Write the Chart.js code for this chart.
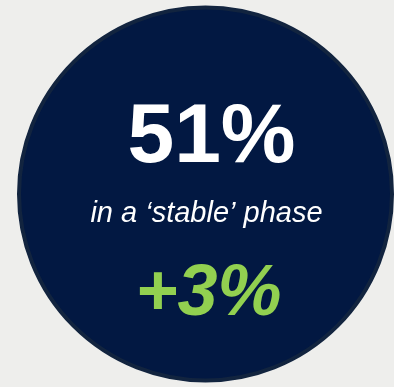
<!DOCTYPE html>
<html>
<head>
<meta charset="utf-8">
<script src="https://cdn.jsdelivr.net/npm/chart.js@4/dist/chart.umd.min.js"></script>
<style>
  html, body { margin: 0; padding: 0; background: #eeeeec; }
  #wrap { width: 394px; height: 387px; }
</style>
</head>
<body>
<div id="wrap"><canvas id="badge"></canvas></div>
<script>
// badge contents
const segments = ['stable'];
const segmentValues = [100];
const headline = '51%';
const captionText = 'in a \u2018stable\u2019 phase';
const change = '+3%';

const navy = '#021842';
const ringColor = '#12243f';
const green = '#92d050';

// text sits on top of the disc
const badgeText = {
  id: 'badgeText',
  afterDraw(chart) {
    const ctx = chart.ctx;
    const arc = chart.getDatasetMeta(1).data[0];
    const cx = arc.x, cy = arc.y;
    ctx.save();
    ctx.textAlign = 'center';
    ctx.textBaseline = 'alphabetic';

    ctx.fillStyle = '#ffffff';
    ctx.font = 'bold 84px "Liberation Sans", Arial, sans-serif';
    ctx.fillText(headline, cx + 6, cy - 32);

    ctx.font = 'italic 29px "Liberation Sans", Arial, sans-serif';
    ctx.fillText(captionText, cx + 1, cy + 28);

    ctx.fillStyle = green;
    ctx.font = 'italic bold 72px "Liberation Sans", Arial, sans-serif';
    ctx.fillText(change, cx + 3, cy + 121);
    ctx.restore();
  }
};

// outer dataset is a thin rim, inner one fills the disc
new Chart(document.getElementById('badge'), {
  type: 'doughnut',
  data: {
    labels: segments,
    datasets: [{
      data: segmentValues,
      backgroundColor: ringColor,
      borderColor: ringColor,
      borderWidth: 2,
      weight: 2
    }, {
      data: segmentValues,
      backgroundColor: navy,
      borderWidth: 0,
      weight: 184
    }]
  },
  options: {
    responsive: true,
    maintainAspectRatio: false,
    animation: false,
    cutout: 0,
    layout: { padding: { left: 17, right: 0, top: 5, bottom: 4 } },
    plugins: {
      legend: { display: false },
      tooltip: { enabled: false }
    }
  },
  plugins: [badgeText]
});
</script>
</body>
</html>
